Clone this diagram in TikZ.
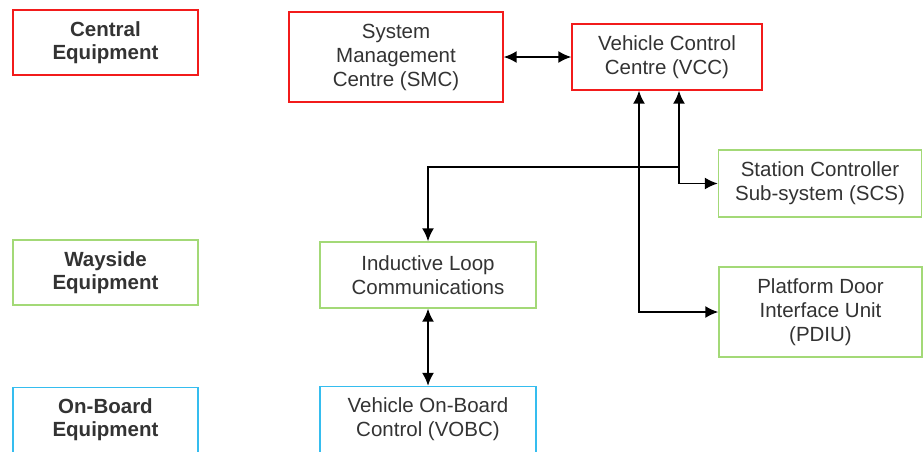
\documentclass[tikz,border=0pt]{standalone}
\usepackage{fontspec}
\setmainfont{Liberation Sans}
\usetikzlibrary{arrows.meta}

\definecolor{boxred}{HTML}{F21B1B}
\definecolor{boxgreen}{HTML}{A3D977}
\definecolor{boxblue}{HTML}{35BDEF}
\definecolor{txtgray}{HTML}{333333}

\begin{document}
\begin{tikzpicture}[
        x=1pt, y=-1pt, % координаты в пикселях, ось y вниз
        >={Latex[length=13pt, width=12pt]},
        unit/.style={draw, line width=1.4pt, fill=white, align=center, text=txtgray,
            font=\fontsize{20.5}{24}\selectfont, inner sep=0pt}, % Стиль блоков
        level/.style={unit, minimum width=185pt, minimum height=65pt,
            font=\fontsize{20.5}{23}\selectfont\bfseries},
        link/.style={draw, line width=1.7pt},
    ]
    \useasboundingbox (0,0) rectangle (923,451);

    % уровни
    \node[level, draw=boxred] (central) at (105.5,42.5) {Central\\Equipment};
    \node[level, draw=boxgreen] (wayside) at (105.5,272.5) {Wayside\\Equipment};
    \node[level, draw=boxblue] (onboard) at (105.5,420) {On-Board\\Equipment};

    % блоки
    \node[unit, draw=boxred, minimum width=214pt, minimum height=90pt] (smc) at (396,57) {System\\Management\\Centre (SMC)};
    \node[unit, draw=boxred, minimum width=190pt, minimum height=66pt] (vcc) at (667,57) {Vehicle Control\\Centre (VCC)};
    \node[unit, draw=boxgreen, minimum width=203pt, minimum height=67pt] (scs) at (820,183.5) {Station Controller\\Sub-system (SCS)};
    \node[unit, draw=boxgreen, minimum width=216pt, minimum height=66pt] (ilc) at (428,275) {Inductive Loop\\Communications};
    \node[unit, draw=boxgreen, minimum width=203pt, minimum height=90pt] (pdiu) at (820.5,312) {Platform Door\\Interface Unit\\(PDIU)};
    \node[unit, draw=boxblue, minimum width=216pt, minimum height=66pt] (vobc) at (428,419.5) {Vehicle On-Board\\Control (VOBC)};

    \coordinate (bend) at (679,167);

    \draw[link, <->] (smc) -- (vcc);
    \draw[link, <->] ([xshift=12pt]vcc.south) |- (scs.west);
    \draw[link, ->] (bend) -| (ilc.north);
    \draw[link, <->] ([xshift=-28pt]vcc.south) |- (pdiu.west);
    \draw[link, <->] (ilc) -- (vobc);
\end{tikzpicture}
\end{document}
